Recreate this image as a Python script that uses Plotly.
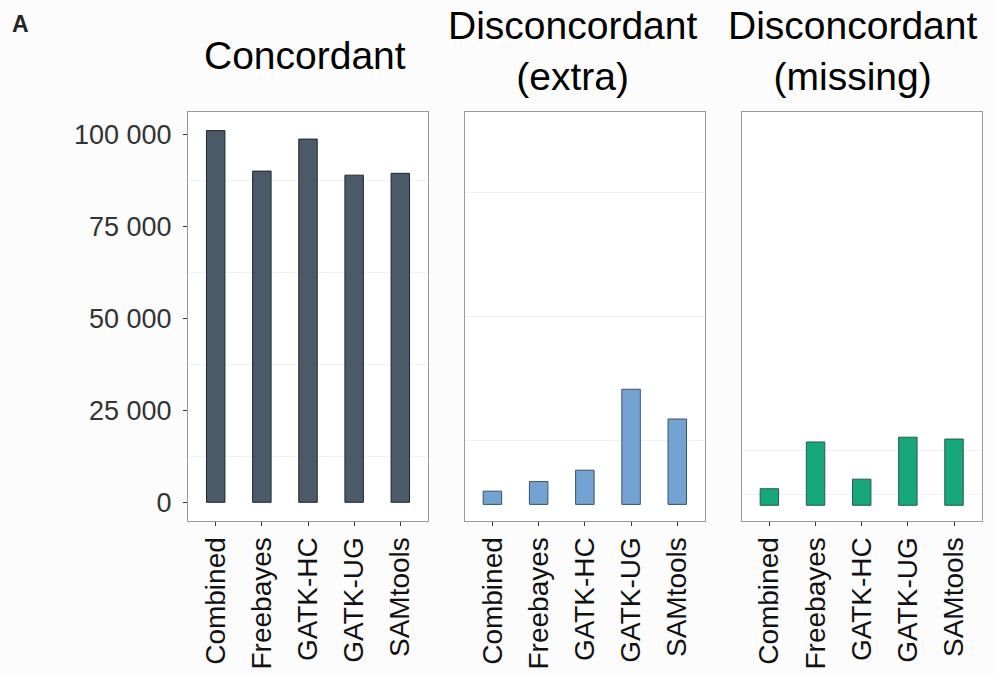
import plotly.graph_objects as go

callers = ["Combined", "Freebayes", "GATK-HC", "GATK-UG", "SAMtools"]
concordant = [101000, 90000, 98700, 88900, 89400]
disc_extra = [3600, 6200, 9300, 31300, 23200]
disc_missing = [4500, 17200, 7100, 18500, 18000]

titles = ["Concordant", "Disconcordant<br>(extra)", "Disconcordant<br>(missing)"]
y_ticks = [0, 25000, 50000, 75000, 100000]
y_ticktext = [f"{v:,}".replace(",", " ") for v in y_ticks]
grid1 = [12500, 37500, 62500, 87500]
grid2 = [17360, 51010, 84810]
grid3 = [2990, 14840]

FONT = "Liberation Sans, Arial, sans-serif"
W, H = 995, 675
top, bottom = 112, 521
xdoms = [(188, 428), (464.7, 705), (741.7, 981.7)]
yranges = [[-5080, 106060], [-4510, 106630], [-4270, 106870]]
fills = ["#4a5a69", "#72a3d3", "#16a87a"]
edges = ["#1f262d", "#3d5268", "#2b5a4b"]
series = [concordant, disc_extra, disc_missing]
grids = [grid1, grid2, grid3]

fig = go.Figure()
for i in range(3):
    xa = "x" if i == 0 else f"x{i+1}"
    ya = "y" if i == 0 else f"y{i+1}"
    fig.add_trace(go.Bar(x=callers, y=series[i], xaxis=xa, yaxis=ya, width=0.4,
                         marker=dict(color=fills[i], line=dict(color=edges[i], width=1)),
                         showlegend=False))
    xkey = "xaxis" if i == 0 else f"xaxis{i+1}"
    ykey = "yaxis" if i == 0 else f"yaxis{i+1}"
    fig.layout[xkey] = dict(
        domain=[xdoms[i][0] / W, xdoms[i][1] / W], anchor=ya,
        type="category", categoryorder="array", categoryarray=callers,
        range=[-0.6, 4.6], tickangle=-90, ticks="outside", ticklen=4,
        tickcolor="#333333", showline=True, mirror=True, linecolor="#9a9a9a",
        linewidth=1, showgrid=False, zeroline=False,
        tickfont=dict(family=FONT, size=28, color="#111111"), fixedrange=True)
    ydict = dict(
        domain=[1 - bottom / H, 1 - top / H], anchor=xa, range=yranges[i],
        showline=True, mirror=True, linecolor="#9a9a9a", linewidth=1,
        zeroline=False, fixedrange=True)
    if i == 0:
        ydict.update(tickmode="array", tickvals=y_ticks, ticktext=y_ticktext,
                     ticks="outside", ticklen=4, tickcolor="#333333",
                     showgrid=False, ticklabelstandoff=6,
                     tickfont=dict(family=FONT, size=27, color="#333333"),
                     minor=dict(tickmode="array", tickvals=grids[i], showgrid=True,
                                gridcolor="#f1f1f1", gridwidth=1, ticks=""))
    else:
        ydict.update(tickmode="array", tickvals=grids[i], showticklabels=False,
                     ticks="", showgrid=True, gridcolor="#f1f1f1", gridwidth=1)
    fig.layout[ykey] = ydict

title_x = [304.5, 572.5, 852]
title_y = [70, 91, 91]
for i in range(3):
    fig.add_annotation(text=titles[i], x=title_x[i] / W, y=1 - title_y[i] / H,
                       xref="paper", yref="paper", xanchor="center", yanchor="bottom",
                       showarrow=False, font=dict(family=FONT, size=39, color="#000000"),
                       yshift=-9)
fig.add_annotation(text="<b>A</b>", x=10 / W, y=1 - 9 / H, xref="paper", yref="paper",
                   xanchor="left", yanchor="top", showarrow=False,
                   font=dict(family=FONT, size=23, color="#222222"))

fig.update_layout(width=W, height=H, margin=dict(l=0, r=0, t=0, b=0),
                  paper_bgcolor="#fcfcfc", plot_bgcolor="#ffffff", bargap=0.6)
fig.write_html("out.html", config={"displayModeBar": False},
               post_script="document.body.style.margin='0px';document.body.style.overflow='hidden';")
